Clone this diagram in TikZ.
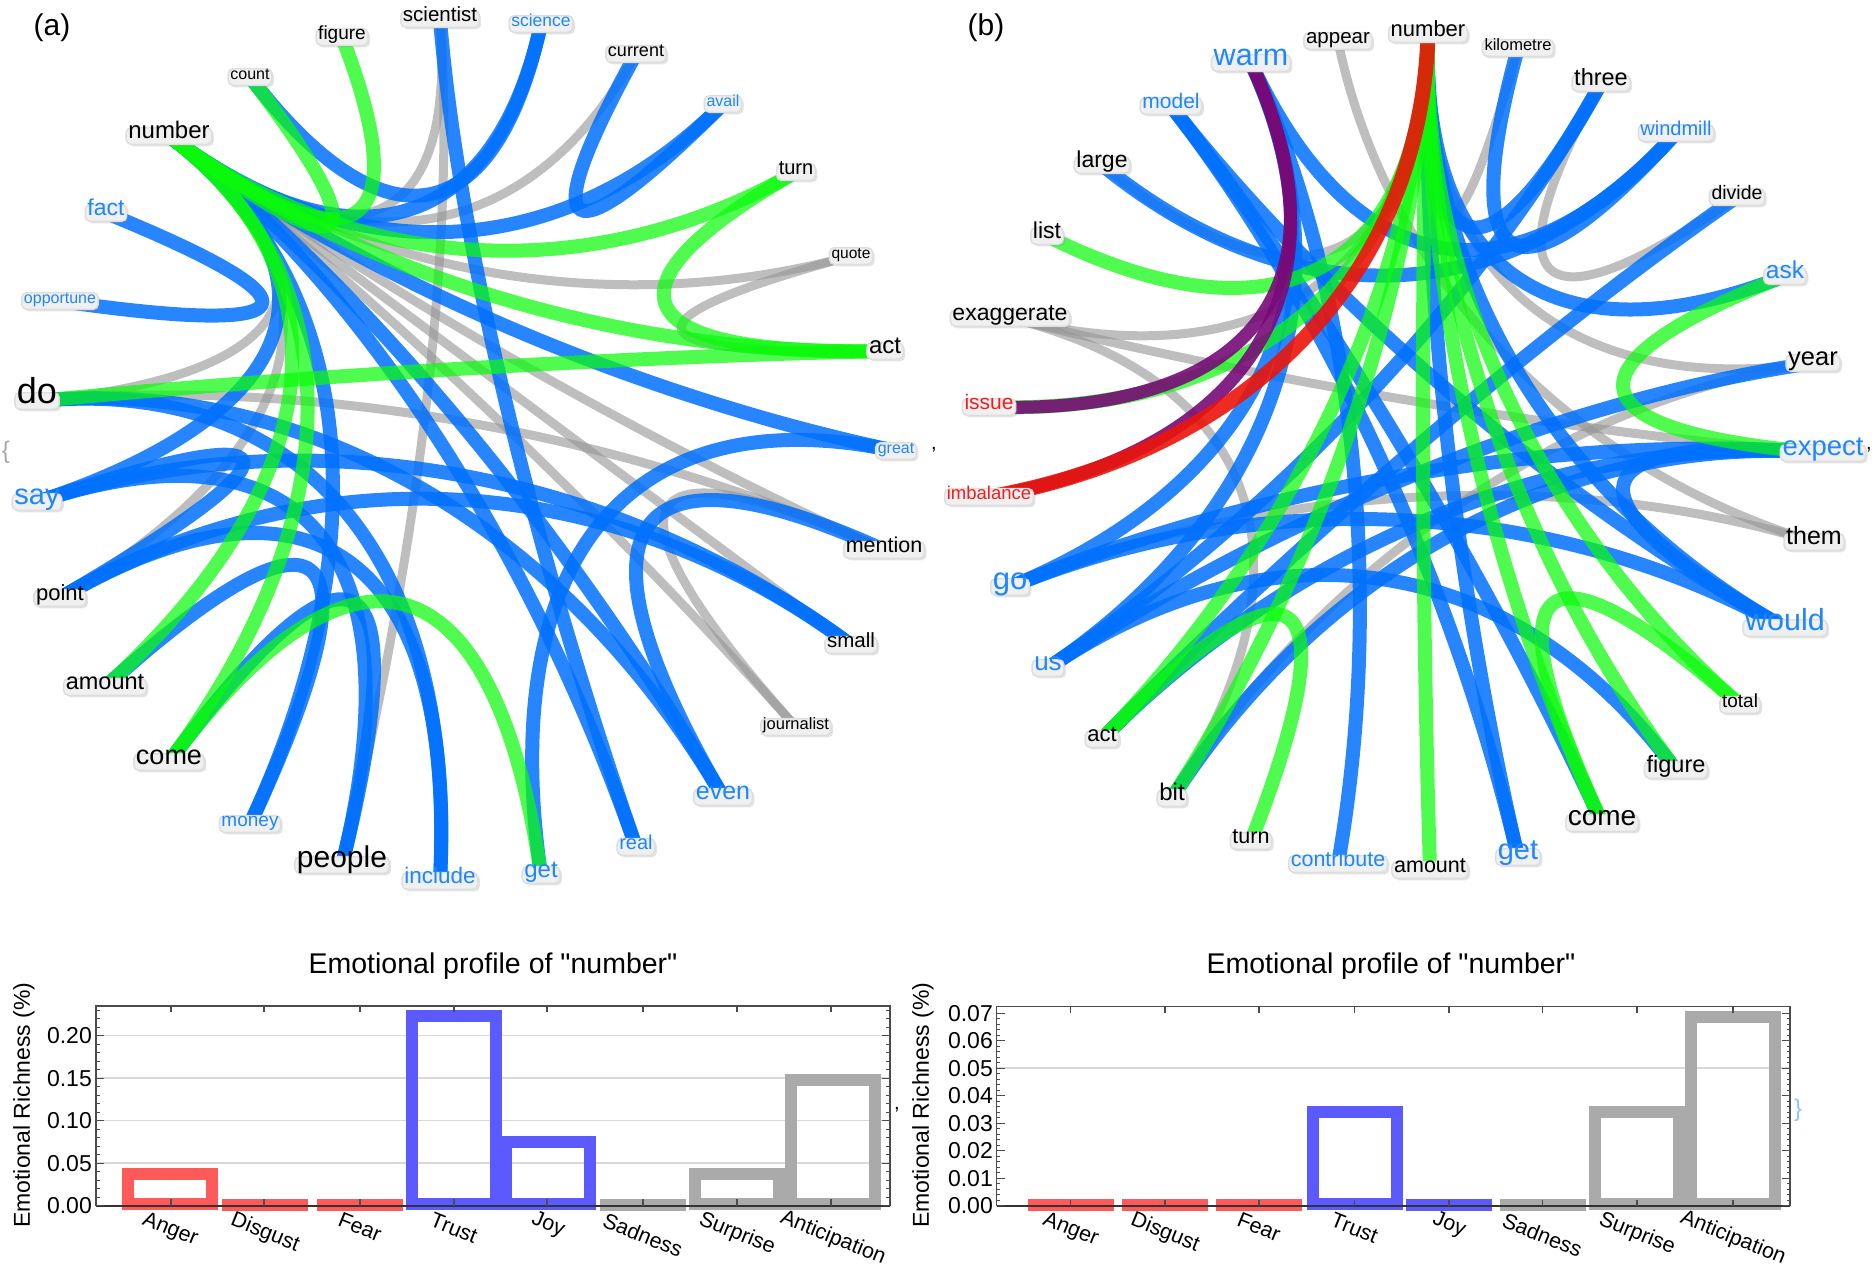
\documentclass[tikz,border=0pt]{standalone}
\usepackage{fontspec}
\setmainfont{Liberation Sans}[Ligatures=TeXOff]
\usetikzlibrary{calc,backgrounds,shadows}
\definecolor{tb}{RGB}{30,135,255}
\definecolor{tr}{RGB}{240,30,30}
\definecolor{labfill}{RGB}{240,240,240}
\definecolor{labdraw}{RGB}{222,222,222}
\definecolor{cblue}{RGB}{0,112,255}
\definecolor{cgreen}{RGB}{10,250,10}
\definecolor{cgray}{RGB}{150,150,150}
\definecolor{cpurple}{RGB}{120,10,120}
\definecolor{cred}{RGB}{235,20,10}
\definecolor{barred}{RGB}{255,90,90}
\definecolor{barblue}{RGB}{90,90,255}
\definecolor{bargray}{RGB}{170,170,170}
\newcommand\fz[1]{\fontsize{#1}{#1}\selectfont}
\newcommand\lbl[5]{\node[lab,font=\fz{#4},text=#5] (#1) at (#2) {#3};}
\newcommand\edg[3]{\draw[#1] (#2.center) .. controls ($(#2.center)!\bnd!(\cn)$) and ($(#3.center)!\bnd!(\cn)$) .. (#3.center);}
\def\bnd{0.62}
\def\cn{ca}
\newcommand\obar[3]{\draw[draw=#3, line width=12] ({#1-42},1204) rectangle ({#1+42},{#2+6});}
\newcommand\zbar[2]{\fill[#2] ({#1-43},1199) rectangle ({#1+43},1211);}
\tikzset{
 lab/.style={fill=labfill, draw=labdraw, line width=1.5, rounded corners=5, inner xsep=0.22em, inner ysep=0.35em, text height=0.74em, text depth=0.22em, drop shadow={shadow xshift=2pt, shadow yshift=-2pt, opacity=0.22, fill=black!50}},
 eb/.style={draw=cblue, line width=14, opacity=.85},
 eg/.style={draw=cgreen, line width=14, opacity=.72},
 ey/.style={draw=cgray, line width=9, opacity=.62},
 ep/.style={draw=cpurple, line width=13, opacity=.9},
 er/.style={draw=cred, line width=15, opacity=.9},
 frame/.style={draw=black!70, line width=1.3},
 grid/.style={draw=black!15, line width=1.5},
 tick/.style={draw=black!70, line width=1.2},
 xl/.style={rotate=-22, font=\fz{21.5}, inner sep=0pt},
}
\begin{document}
\begin{tikzpicture}[x=1pt,y=-1pt]
\useasboundingbox (0,0) rectangle (1876,1269);
\coordinate (ca) at (467,360);
\coordinate (cb) at (1416,420);
% ---------- panel labels and punctuation
\node[font=\fz{30}] (pa) at (52,28) {(a)};
\node[font=\fz{30}] (pb) at (986,28) {(b)};
\node[text=black!35, font=\fz{24}] (o1) at (6,452) {\{};
\node[font=\fz{20}] (o2) at (934,450) {,};
\node[font=\fz{20}] (o3) at (1869,450) {,};
\node[font=\fz{20}] (o4) at (897,1110) {,};
\node[text=tb!50, font=\fz{24}] (o5) at (1798,1110) {\}};
% ---------- panel (a) words
\lbl{ascientist}{440,19}{scientist}{20.5}{black}
\lbl{ascience}{541,24}{science}{17.5}{tb}
\lbl{afigure}{342,37}{figure}{19}{black}
\lbl{acurrent}{636,54}{current}{18}{black}
\lbl{acount}{250,77}{count}{16}{black}
\lbl{aavail}{723,104}{avail}{16}{tb}
\lbl{anumber}{169,136}{number}{24}{black}
\lbl{aturn}{796,172}{turn}{20}{black}
\lbl{afact}{106,213}{fact}{23}{tb}
\lbl{aquote}{851,256}{quote}{15.5}{black}
\lbl{aopportune}{60,301}{opportune}{16}{tb}
\lbl{aact}{885,351}{act}{24}{black}
\lbl{ado}{37,401}{do}{36}{black}
\lbl{agreat}{896,451}{great}{16}{tb}
\lbl{asay}{37,502}{say}{29}{tb}
\lbl{amention}{884,550}{mention}{21.5}{black}
\lbl{apoint}{60,598}{point}{22}{black}
\lbl{asmall}{851,645}{small}{20.5}{black}
\lbl{aamount}{105,687}{amount}{23.5}{black}
\lbl{ajournalist}{796,727}{journalist}{16.5}{black}
\lbl{acome}{169,762}{come}{27}{black}
\lbl{aeven}{723,797}{even}{25}{tb}
\lbl{amoney}{250,824}{money}{19}{tb}
\lbl{areal}{636,847}{real}{20}{tb}
\lbl{apeople}{342,865}{people}{30}{black}
\lbl{ainclude}{440,881}{include}{22.5}{tb}
\lbl{aget}{541,875}{get}{24}{tb}
% ---------- panel (b) words
\lbl{bnumber}{1428,34}{number}{22}{black}
\lbl{bappear}{1338,41}{appear}{20.5}{black}
\lbl{bkilometre}{1518,48}{kilometre}{16.5}{black}
\lbl{bwarm}{1251,63}{warm}{30.5}{tb}
\lbl{bthree}{1601,83}{three}{23.5}{black}
\lbl{bmodel}{1171,106}{model}{21}{tb}
\lbl{bwindmill}{1676,133}{windmill}{20}{tb}
\lbl{blarge}{1102,165}{large}{23}{black}
\lbl{bdivide}{1737,197}{divide}{19.5}{black}
\lbl{blist}{1047,236}{list}{23}{black}
\lbl{bask}{1785,276}{ask}{24.5}{tb}
\lbl{bexaggerate}{1010,318}{exaggerate}{23}{black}
\lbl{byear}{1813,363}{year}{25.5}{black}
\lbl{bissue}{989,407}{issue}{21}{tr}
\lbl{bexpect}{1823,453}{expect}{27.5}{tb}
\lbl{bimbalance}{989,497}{imbalance}{18.5}{tr}
\lbl{bthem}{1814,542}{them}{25}{black}
\lbl{bgo}{1010,587}{go}{31}{tb}
\lbl{bwould}{1785,628}{would}{30.5}{tb}
\lbl{bus}{1048,668}{us}{26}{tb}
\lbl{btotal}{1740,705}{total}{19}{black}
\lbl{bact}{1102,739}{act}{22}{black}
\lbl{bfigure}{1676,770}{figure}{23.5}{black}
\lbl{bbit}{1172,798}{bit}{24}{black}
\lbl{bcome}{1602,823}{come}{28}{black}
\lbl{bturn}{1251,841}{turn}{21.5}{black}
\lbl{bget}{1518,857}{get}{29}{tb}
\lbl{bcontribute}{1338,864}{contribute}{21.5}{tb}
\lbl{bamount}{1430,870}{amount}{21.5}{black}
% ---------- edges
\begin{scope}[on background layer]
\def\cn{ca}
\edg{ey}{anumber}{ascientist}
\edg{ey}{anumber}{acurrent}
\edg{ey}{anumber}{aquote}
\edg{ey}{anumber}{amention}
\edg{ey}{anumber}{asmall}
\edg{ey}{anumber}{ajournalist}
\edg{ey}{aquote}{aact}
\edg{ey}{ado}{amention}
\edg{ey}{anumber}{apoint}
\edg{ey}{ado}{anumber}
\edg{ey}{apeople}{ascientist}
\edg{ey}{amention}{ajournalist}
\edg{eb}{afact}{aopportune}
\edg{eb}{acount}{ascience}
\edg{eb}{acurrent}{aavail}
\edg{eb}{anumber}{aavail}
\edg{eb}{anumber}{ascience}
\edg{eb}{anumber}{agreat}
\edg{eb}{anumber}{aeven}
\edg{eb}{anumber}{areal}
\edg{eb}{ainclude}{ado}
\edg{eb}{asay}{asmall}
\edg{eb}{asay}{anumber}
\edg{eb}{asay}{apeople}
\edg{eb}{apoint}{asay}
\edg{eb}{apoint}{ainclude}
\edg{eb}{aamount}{amoney}
\edg{eb}{acome}{apeople}
\edg{eb}{amoney}{anumber}
\edg{eb}{aget}{agreat}
\edg{eb}{ascientist}{areal}
\edg{eb}{amention}{aeven}
\edg{eb}{ado}{aeven}
\edg{eb}{apoint}{asmall}
\edg{eg}{anumber}{aturn}
\edg{eg}{anumber}{aact}
\edg{eg}{aturn}{aact}
\edg{eg}{anumber}{afigure}
\edg{eg}{anumber}{acount}
\edg{eg}{aact}{ado}
\edg{eg}{anumber}{aamount}
\edg{eg}{anumber}{acome}
\edg{eg}{aget}{acome}
\def\cn{cb}
\edg{ey}{bappear}{bthem}
\edg{ey}{bnumber}{byear}
\edg{ey}{bthree}{bdivide}
\edg{ey}{bexaggerate}{bnumber}
\edg{ey}{bexaggerate}{bexpect}
\edg{ey}{bexaggerate}{bbit}
\edg{ey}{bthem}{bgo}
\edg{ey}{blarge}{bnumber}
\edg{ey}{bkilometre}{bnumber}
\edg{ey}{bbit}{byear}
\edg{eb}{blarge}{bwindmill}
\edg{eb}{bmodel}{bwould}
\edg{eb}{bwarm}{bwindmill}
\edg{eb}{bwarm}{bgo}
\edg{eb}{bwarm}{bus}
\edg{eb}{bnumber}{bthree}
\edg{eb}{bnumber}{bask}
\edg{eb}{bnumber}{bwould}
\edg{eb}{bkilometre}{bwindmill}
\edg{eb}{byear}{bus}
\edg{eb}{bexpect}{bact}
\edg{eb}{bexpect}{bgo}
\edg{eb}{bgo}{bwould}
\edg{eb}{bus}{bfigure}
\edg{eb}{bcome}{bmodel}
\edg{eb}{bget}{bnumber}
\edg{eb}{bcontribute}{bwarm}
\edg{eb}{bbit}{bexpect}
\edg{eb}{bthree}{bus}
\edg{eb}{bdivide}{bact}
\edg{eb}{bexpect}{bwould}
\edg{eb}{bget}{bmodel}
\edg{eg}{bissue}{bnumber}
\edg{eg}{blist}{bnumber}
\edg{eg}{bask}{bexpect}
\edg{eg}{bnumber}{btotal}
\edg{eg}{bnumber}{bfigure}
\edg{eg}{bnumber}{bcome}
\edg{eg}{bnumber}{bamount}
\edg{eg}{bnumber}{bact}
\edg{eg}{bnumber}{bbit}
\edg{eg}{bact}{bturn}
\edg{eg}{bcome}{btotal}
\edg{ep}{bwarm}{bissue}
\edg{ep}{bwarm}{bimbalance}
\edg{er}{bnumber}{bimbalance}
\end{scope}
% ---------- chart (a)
\foreach \yy in {1163.2,1120.7,1078.2,1035.7} \draw[grid] (96,\yy) -- (890,\yy);
\obar{170}{1167.5}{barred}
\zbar{265}{barred}
\zbar{360}{barred}
\obar{454}{1010}{barblue}
\obar{548}{1136}{barblue}
\zbar{643}{bargray}
\obar{737}{1167.5}{bargray}
\obar{833}{1074}{bargray}
\draw[frame] (96,1006) rectangle (890,1205.7);
\draw[draw=black!80, line width=2] (96,1205.7) -- (890,1205.7);
\foreach \k in {0,...,23} {\draw[tick] (96,{1205.7-8.5*\k}) -- (100,{1205.7-8.5*\k}); \draw[tick] (890,{1205.7-8.5*\k}) -- (886,{1205.7-8.5*\k});}
\foreach \yy in {1205.7,1163.2,1120.7,1078.2,1035.7} {\draw[tick] (96,\yy) -- (104,\yy); \draw[tick] (890,\yy) -- (882,\yy);}
\foreach \xx in {171,264,360,454,547,643,737,831} {\draw[tick] (\xx,1006) -- (\xx,1012); \draw[tick] (\xx,1205.7) -- (\xx,1199);}
\foreach \lab/\yy in {0.00/1205.7,0.05/1163.2,0.10/1120.7,0.15/1078.2,0.20/1035.7} \node[anchor=east, font=\fz{23}, inner sep=0pt] at (92,\yy) {\lab};
\node[font=\fz{28.5}, anchor=base] (ta) at (493,973) {Emotional profile of "number"};
\node[font=\fz{23}, rotate=90] (ya) at (24,1105) {Emotional Richness (\%)};
\foreach \xx/\yy/\lab in {170/1230/Anger,265/1233/Disgust,360/1227/Fear,454/1228/Trust,548/1225/Joy,643/1235/Sadness,737/1234/Surprise,833/1238/Anticipation} \node[xl] at (\xx,\yy) {\lab};
% ---------- chart (b)
\draw[grid] (996.5,1068) -- (1790,1068);
\zbar{1070.5}{barred}
\zbar{1165}{barred}
\zbar{1259}{barred}
\obar{1354.5}{1105.7}{barblue}
\zbar{1449}{barblue}
\zbar{1542.5}{bargray}
\obar{1637}{1105.7}{bargray}
\obar{1733}{1010.7}{bargray}
\draw[frame] (996.5,1006.7) rectangle (1790,1205.7);
\draw[draw=black!80, line width=2] (996.5,1205.7) -- (1790,1205.7);
\foreach \k in {0,...,35} {\draw[tick] (996.5,{1205.7-5.5*\k}) -- (1000,{1205.7-5.5*\k}); \draw[tick] (1790,{1205.7-5.5*\k}) -- (1786.5,{1205.7-5.5*\k});}
\foreach \k in {0,...,7} {\draw[tick] (996.5,{1205.7-27.5*\k}) -- (1004.5,{1205.7-27.5*\k}); \draw[tick] (1790,{1205.7-27.5*\k}) -- (1782,{1205.7-27.5*\k});}
\foreach \xx in {1070.5,1165,1259,1354.5,1449,1542.5,1637,1733} {\draw[tick] (\xx,1006.7) -- (\xx,1012.7); \draw[tick] (\xx,1205.7) -- (\xx,1199.7);}
\foreach \lab/\k in {0.00/0,0.01/1,0.02/2,0.03/3,0.04/4,0.05/5,0.06/6,0.07/7} \node[anchor=east, font=\fz{23}, inner sep=0pt] at (993,{1205.7-27.5*\k}) {\lab};
\node[font=\fz{28.5}, anchor=base] (tbt) at (1391,973) {Emotional profile of "number"};
\node[font=\fz{23}, rotate=90] (yb) at (923,1105) {Emotional Richness (\%)};
\foreach \xx/\yy/\lab in {1070.5/1230/Anger,1165/1233/Disgust,1259/1227/Fear,1354.5/1228/Trust,1449/1225/Joy,1542.5/1235/Sadness,1637/1234/Surprise,1733/1238/Anticipation} \node[xl] at (\xx,\yy) {\lab};
\end{tikzpicture}
\end{document}
